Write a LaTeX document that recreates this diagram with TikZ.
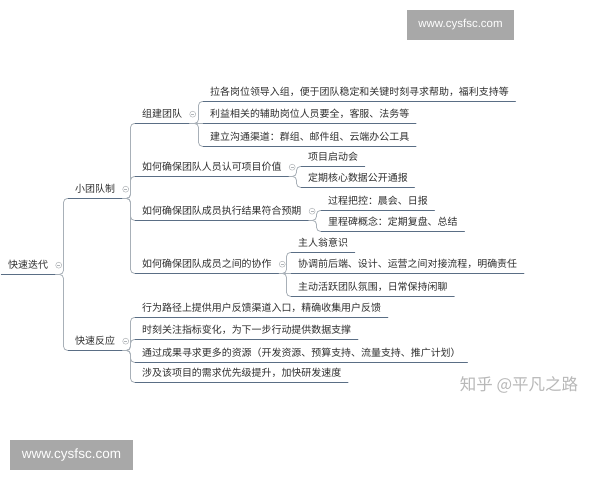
\documentclass[tikz,border=0pt]{standalone}
\usepackage{fontspec}
\newfontfamily\cjk{Noto Sans CJK SC}
\newfontfamily\wmfont{Liberation Sans}
\usetikzlibrary{calc}
\definecolor{txt}{HTML}{2E2E2E}
\definecolor{ulinec}{HTML}{5A6E85}
\definecolor{connc}{HTML}{A8B0B8}
\definecolor{foldc}{HTML}{B0B4B8}
\definecolor{wmbox}{HTML}{A8A8A8}
\definecolor{zhihu}{HTML}{B8B8B8}
\tikzset{
  topic/.style={anchor=base west, font=\cjk\fontsize{9.95}{10}\selectfont, text=txt,
    text height=8.5pt, text depth=1.5pt, inner xsep=6.5pt, inner ysep=4pt},
  uline/.style={draw=ulinec, line width=1.2pt, line cap=round},
  conn/.style={draw=connc, line width=0.8pt, rounded corners=4pt},
  fold/.style={circle, draw=foldc, line width=0.5pt, minimum size=6pt, inner sep=0pt, fill=white,
    path picture={\draw[foldc, line width=0.4pt] ([xshift=-1.6pt]path picture bounding box.center) -- ([xshift=1.6pt]path picture bounding box.center);}},
  wm/.style={fill=wmbox, text=white, inner sep=0pt}
}
\newcommand\mmtopic[4]{\node[topic] (#1) at (#2-6.5,#3+3.7) {#4};}
\newcommand\mmline[1]{\draw[uline] (#1.south west) -- (#1.south east);}
\newcommand\mmfold[1]{\node[fold] at ([xshift=4pt]#1.east) {};}
\newcommand\mmlink[2]{\draw[conn] (#1.south east) -| ([xshift=-5pt]#2.south west) -- (#2.south west);}
\newcommand\mmstraight[2]{\draw[conn] (#1.south east) -- (#2.south west);}
\begin{document}
\begin{tikzpicture}[x=1pt,y=-1pt]
\useasboundingbox (0,0) rectangle (600,480);
\fill[white] (0,0) rectangle (600,480);

% topics
\mmtopic{root}{8}{265}{快速迭代}
\mmtopic{a}{75}{189}{小团队制}
\mmtopic{b}{75}{341}{快速反应}

\mmtopic{a1}{142}{114}{组建团队}
\mmtopic{a2}{142}{167}{如何确保团队人员认可项目价值}
\mmtopic{a3}{142}{211}{如何确保团队成员执行结果符合预期}
\mmtopic{a4}{142}{264}{如何确保团队成员之间的协作}

\mmtopic{a11}{210}{92}{拉各岗位领导入组，便于团队稳定和关键时刻寻求帮助，福利支持等}
\mmtopic{a12}{210}{114}{利益相关的辅助岗位人员要全，客服、法务等}
\mmtopic{a13}{210}{137}{建立沟通渠道：群组、邮件组、云端办公工具}

\mmtopic{a21}{308}{157}{项目启动会}
\mmtopic{a22}{308}{178}{定期核心数据公开通报}

\mmtopic{a31}{328}{201}{过程把控：晨会、日报}
\mmtopic{a32}{328}{222}{里程碑概念：定期复盘、总结}

\mmtopic{a41}{298}{243}{主人翁意识}
\mmtopic{a42}{298}{264}{协调前后端、设计、运营之间对接流程，明确责任}
\mmtopic{a43}{298}{287}{主动活跃团队氛围，日常保持闲聊}

\mmtopic{b1}{142}{308}{行为路径上提供用户反馈渠道入口，精确收集用户反馈}
\mmtopic{b2}{142}{330}{时刻关注指标变化，为下一步行动提供数据支撑}
\mmtopic{b3}{142}{353}{通过成果寻求更多的资源（开发资源、预算支持、流量支持、推广计划）}
\mmtopic{b4}{142}{373}{涉及该项目的需求优先级提升，加快研发速度}

% connectors
\mmlink{root}{a}
\mmlink{root}{b}
\mmlink{a}{a1}
\mmlink{a}{a2}
\mmlink{a}{a3}
\mmlink{a}{a4}
\mmlink{a1}{a11}
\mmstraight{a1}{a12}
\mmlink{a1}{a13}
\mmlink{a2}{a21}
\mmlink{a2}{a22}
\mmlink{a3}{a31}
\mmlink{a3}{a32}
\mmlink{a4}{a41}
\mmstraight{a4}{a42}
\mmlink{a4}{a43}
\mmlink{b}{b1}
\mmlink{b}{b2}
\mmlink{b}{b3}
\mmlink{b}{b4}

% underlines
\foreach \n in {root,a,b,a1,a2,a3,a4,a11,a12,a13,a21,a22,a31,a32,a41,a42,a43,b1,b2,b3,b4}{\mmline{\n}}

% fold markers
\foreach \n in {root,a,b,a1,a2,a3,a4}{\mmfold{\n}}

% watermarks
\node[wm, minimum width=107pt, minimum height=30pt, font=\wmfont\fontsize{11.5}{12}\selectfont] (wm1) at (460.5,25) {www.cysfsc.com};
\node[wm, minimum width=123pt, minimum height=30pt, font=\wmfont\fontsize{13.5}{14}\selectfont] (wm2) at (71.5,455) {www.cysfsc.com};
\node[text=zhihu, font=\cjk\fontsize{16.5}{17}\selectfont, inner sep=0pt] (zh) at (519,385) {知乎 @平凡之路};
\end{tikzpicture}
\end{document}
